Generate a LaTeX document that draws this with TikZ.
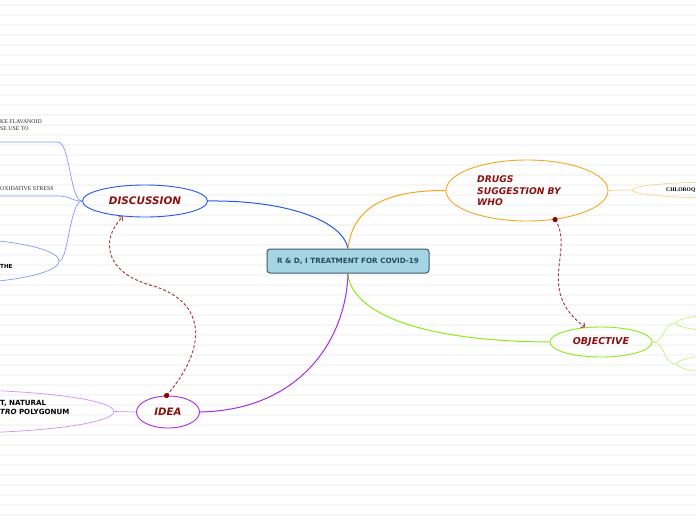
\documentclass[tikz,border=0pt]{standalone}
\usepackage{fontspec}
\setmainfont{DejaVu Sans}
\newfontfamily\serifx{Liberation Serif}
\usetikzlibrary{shapes.geometric,arrows.meta}
\definecolor{rootfill}{HTML}{A3D5E2}
\definecolor{rootdraw}{HTML}{3E5B6B}
\definecolor{roottext}{HTML}{2E4A5A}
\definecolor{topictext}{HTML}{8B1010}
\definecolor{blueA}{HTML}{2458F0}
\definecolor{blueB}{HTML}{7E9CFF}
\definecolor{orangeA}{HTML}{F5A623}
\definecolor{orangeB}{HTML}{FFD58A}
\definecolor{greenA}{HTML}{8EE81A}
\definecolor{greenB}{HTML}{C2F47E}
\definecolor{purpleA}{HTML}{A52CEB}
\definecolor{purpleB}{HTML}{CF90F7}
\definecolor{dashc}{HTML}{A84646}
\definecolor{dotc}{HTML}{8B0000}
\definecolor{stripe}{HTML}{F6F6F6}
\tikzset{
  rootbox/.style={rectangle, rounded corners=3pt, fill=rootfill, draw=rootdraw, line width=1pt,
    minimum width=162, minimum height=24, inner sep=0pt, text=roottext,
    font=\bfseries\fontsize{7.2}{9}\selectfont},
  topic/.style={ellipse, inner sep=0pt, line width=0.9pt, text=topictext,
    font=\bfseries\itshape\fontsize{9.5}{11}\selectfont},
  topiclabel/.style={rectangle, inner sep=0pt, text=topictext, align=left,
    font=\bfseries\itshape\fontsize{9.2}{11.5}\selectfont},
  subell/.style={ellipse, inner sep=0pt, line width=0.7pt},
  conn/.style={line width=1pt},
  subconn/.style={line width=0.7pt},
  dashlink/.style={draw=dashc, line width=1pt, dash pattern=on 3pt off 2pt},
  endtip/.style={-{Straight Barb[length=3pt,width=6pt]}},
  seriftxt/.style={inner sep=0pt, font=\serifx\fontsize{5.8}{7.5}\selectfont, text=black!85, align=left},
  sanstxt/.style={inner sep=0pt, font=\bfseries\fontsize{7.1}{9.5}\selectfont, text=black, align=left},
}
\begin{document}
\begin{tikzpicture}[x=1pt,y=-1pt]
\useasboundingbox (0,0) rectangle (696,520);
\clip (0,0) rectangle (696,520);
\fill[white] (0,0) rectangle (696,520);
\foreach \yy in {5,15,...,515} \draw[stripe, line width=1.2pt] (0,\yy) -- (696,\yy);

% root
\node[rootbox] (root) at (348,261) {R \& D, I TREATMENT FOR COVID-19};

% main topics
\node[topic, draw=blueA, minimum width=125, minimum height=32, font=\bfseries\itshape\fontsize{10.4}{12}\selectfont] (disc) at (145,201) {DISCUSSION};
\node[topic, draw=orangeA, minimum width=162, minimum height=61] (drugs) at (527,190.5) {};
\node[topiclabel, anchor=west] (drugslbl) at (477,191) {DRUGS\\SUGGESTION BY\\WHO};
\node[topic, draw=greenA, minimum width=102, minimum height=30] (obj) at (601,342) {OBJECTIVE};
\node[topic, draw=purpleA, minimum width=63, minimum height=32, font=\bfseries\itshape\fontsize{10.2}{12}\selectfont] (idea) at (168,412) {IDEA};

% sub nodes
\node[subell, draw=orangeB, minimum width=176, minimum height=16] (chl) at (720,190) {};
\node[anchor=west, inner sep=0pt, font=\serifx\bfseries\fontsize{5.6}{7}\selectfont] (chltxt) at (666,190) {CHLOROQ};
\node[subell, draw=greenB, minimum width=128, minimum height=18] (g1) at (740,323) {};
\node[subell, draw=greenB, minimum width=128, minimum height=20] (g2) at (741,364) {};
\node[subell, draw=blueB, minimum width=238, minimum height=46] (the) at (-60,261) {};
\node[sanstxt, anchor=west, font=\bfseries\fontsize{5.6}{7}\selectfont] (thetxt) at (0,266) {THE};
\node[subell, draw=purpleB, minimum width=348, minimum height=44] (nat) at (-60,411.5) {};
\node[sanstxt, anchor=north west] (nattxt) at (0,400) {T, NATURAL\\\textit{TRO} POLYGONUM};

% underline branches (discussion)
\coordinate (u1) at (58,142);
\coordinate (u1end) at (0,142);
\coordinate (u2) at (58,196);
\coordinate (u2end) at (0,196);
\node[seriftxt, anchor=south west] (u1txt) at (0,131) {KE FLAVANOID\\SE USE TO};
\node[seriftxt, anchor=south west] (u2txt) at (0,191) {OXIDATIVE STRESS};

% main connectors
\draw[conn, blueA] (disc.east) .. controls (290,200) and (343,222) .. (root.north);
\draw[conn, orangeA] (root.north) .. controls (352,215) and (375,190) .. (drugs.west);
\draw[conn, greenA] (root.south) .. controls (350,305) and (400,341) .. (obj.west);
\draw[conn, purpleA] (root.south) .. controls (346,340) and (300,410) .. (idea.east);

% sub connectors
\draw[subconn, orangeB] (drugs.east) -- (chl.west);
\draw[subconn, greenB] (obj.east) .. controls (666,342) and (662,323) .. (g1.west);
\draw[subconn, greenB] (obj.east) .. controls (666,342) and (662,364) .. (g2.west);
\draw[subconn, blueB] (disc.west) .. controls (70,201) and (70,142) .. (u1) -- (u1end);
\draw[subconn, blueB] (disc.west) .. controls (72,201) and (70,196) .. (u2) -- (u2end);
\draw[subconn, blueB] (disc.west) .. controls (70,201) and (68,261) .. (the.east);
\draw[subconn, purpleB] (idea.west) -- (nat.east);

% dashed relation links
\draw[dashlink, endtip] (idea.95) .. controls (210,345) and (205,300) .. (150,285)
   .. controls (105,272) and (100,240) .. (disc.215);
\fill[dotc] (idea.95) circle (2.6pt);
\draw[dashlink, endtip] (drugs.314) .. controls (575,250) and (535,290) .. (obj.137);
\fill[dotc] (drugs.314) circle (2.6pt);
\end{tikzpicture}
\end{document}
